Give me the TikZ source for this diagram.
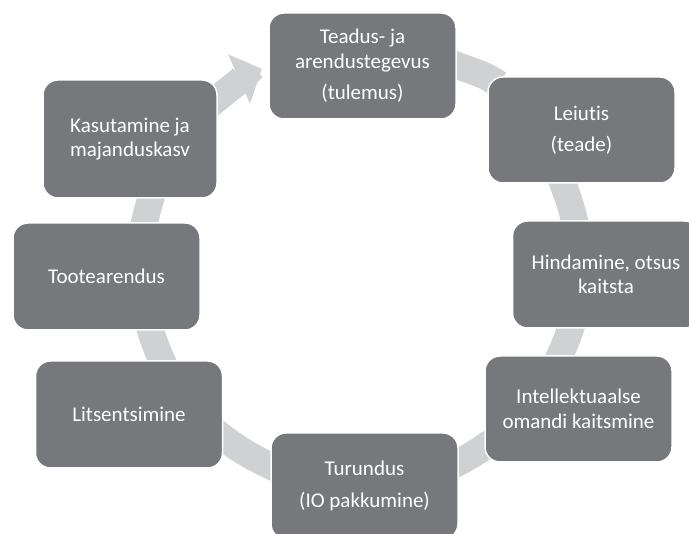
\documentclass[tikz,border=0pt]{standalone}
\usepackage{fontspec}
\setmainfont{Carlito}[Ligatures=NoCommon]
\usetikzlibrary{arrows.meta,backgrounds}
\definecolor{boxgray}{RGB}{119,120,124}
\definecolor{bandgray}{RGB}{208,209,211}

\begin{document}
\begin{tikzpicture}[x=1pt,y=1pt,
  box/.style={fill=boxgray,draw=white,line width=1.5pt,rounded corners=15pt,
    minimum width=187pt,minimum height=106pt,inner sep=0pt,align=center,
    text=white,font=\fontsize{21}{24.5}\selectfont},
  band/.style={draw=bandgray,line width=27pt,looseness=0.85,
    shorten <=-14pt,shorten >=-14pt}]
\useasboundingbox (0,0) rectangle (689,534);
\node[box] (teadus) at (362.5,468) {Teadus- ja\\arendustegevus\\[7pt](tulemus)};
\node[box] (leiutis) at (581.5,404) {Leiutis\\[7pt](teade)};
\node[box,minimum height=107pt] (hindamine) at (606,259.5) {Hindamine, otsus\\kaitsta};
\node[box] (kaitse) at (578.5,125) {Intellektuaalse\\omandi kaitsmine};
\node[box] (turundus) at (364.5,48) {Turundus\\[7pt](IO pakkumine)};
\node[box,minimum height=107pt] (litsents) at (129,119.5) {Litsentsimine};
\node[box,minimum height=107pt] (toote) at (106.5,257.5) {Tootearendus};
\node[box,minimum width=174pt,minimum height=118pt] (kasutus) at (130,395) {Kasutamine ja\\majanduskasv};
% ring segments behind the boxes
\begin{scope}[on background layer]
\foreach \a/\b/\o/\i in {teadus.east/leiutis.north west/-26/146,
    leiutis.251/hindamine.120/-68/102, hindamine.237/kaitse.109/-106/66,
    kaitse.202/turundus.14/-145/27, turundus.168/litsents.346/156/-39,
    litsents.59/toote.309/116/-73, toote.55/kasutus.289/79/-108}{
  \draw[band] (\a) to[out=\o,in=\i] (\b);
}
\draw[band,-{Triangle[width=54pt,length=25pt,line width=0pt]},shorten >=7pt]
  (kasutus.25) to[out=40,in=204] (teadus.west);
\end{scope}
\end{tikzpicture}
\end{document}
